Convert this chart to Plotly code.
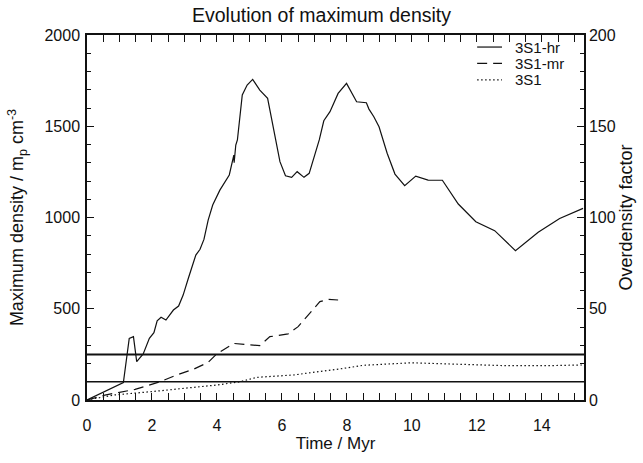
import plotly.graph_objects as go

# 3S1-hr (solid)
hr_time = [0, 1.12, 1.30, 1.43, 1.53, 1.73, 1.92, 2.06, 2.16, 2.28, 2.43, 2.66, 2.82, 2.96,
           3.12, 3.35, 3.48, 3.60, 3.73, 3.87, 4.09, 4.38, 4.52, 4.53, 4.58, 4.63, 4.78, 4.93,
           5.10, 5.32, 5.56, 5.71, 5.94, 6.11, 6.30, 6.47, 6.68, 6.84, 6.96, 7.09, 7.15, 7.29,
           7.48, 7.73, 7.99, 8.30, 8.60, 8.68, 8.83, 8.99, 9.24, 9.48, 9.78, 10.12, 10.50,
           10.94, 11.43, 11.97, 12.55, 13.19, 13.89, 14.55, 15.27]
hr_dens = [0, 95, 338, 347, 210, 252, 338, 369, 434, 453, 438, 493, 515, 575,
           667, 794, 826, 880, 986, 1068, 1150, 1233, 1342, 1300, 1397, 1425, 1671, 1726,
           1757, 1698, 1653, 1516, 1306, 1229, 1220, 1251, 1220, 1242, 1315, 1397, 1425, 1530,
           1580, 1680, 1735, 1634, 1629, 1594, 1552, 1497, 1352, 1238, 1174, 1227, 1205,
           1204, 1074, 977, 928, 818, 919, 995, 1050]

# 3S1-mr (dashed)
mr_time = [0, 0.55, 1.48, 2.25, 2.76, 3.27, 3.73, 3.99, 4.52, 4.88, 5.32, 5.63, 6.19, 6.50,
           6.86, 7.17, 7.43, 7.73]
mr_dens = [0, 27, 58, 100, 137, 168, 206, 252, 310, 305, 298, 347, 362, 402,
           475, 539, 552, 548]

# 3S1 (dotted)
lr_time = [0, 0.81, 1.99, 3.99, 4.71, 5.22, 6.35, 7.17, 7.89, 8.50, 9.22, 9.99, 10.86,
           11.89, 12.91, 14.14, 15.27]
lr_dens = [0, 27, 46, 82, 100, 124, 137, 155, 173, 190, 197, 204, 199,
           192, 188, 188, 192]

# horizontal reference levels (overdensity factor)
thresholds = [10, 25]
threshold_widths = [1.3, 2.0]

series_names = ["3S1-hr", "3S1-mr", "3S1"]
series_dash = ["solid", "10px,6px", "1.5px,2.5px"]

FONT = "Liberation Sans, Arial, Helvetica, sans-serif"
INK = "#111111"

fig = go.Figure()
for name, dash, xs, ys in zip(series_names, series_dash,
                              [hr_time, mr_time, lr_time], [hr_dens, mr_dens, lr_dens]):
    fig.add_scatter(x=xs, y=ys, mode="lines", name=name, showlegend=False,
                    line=dict(color=INK, width=1.2, dash=dash))

for lvl, w in zip(thresholds, threshold_widths):
    fig.add_shape(type="line", xref="x domain", x0=0, x1=1, yref="y2", y0=lvl, y1=lvl,
                  line=dict(color=INK, width=w))

# hand-made legend (tighter rows than plotly's own legend)
for i, (name, dash) in enumerate(zip(series_names, series_dash)):
    ly = 0.967 - i * 0.045
    fig.add_shape(type="line", xref="x domain", yref="y domain", x0=0.785, x1=0.835,
                  y0=ly, y1=ly, line=dict(color=INK, width=1.2, dash=dash))
    fig.add_annotation(xref="x domain", yref="y domain", x=0.857, y=ly, text=name,
                       showarrow=False, xanchor="left", yanchor="middle",
                       font=dict(size=15, color=INK))

axis_common = dict(showline=True, linecolor=INK, linewidth=1.5, ticks="inside",
                   tickcolor=INK, tickwidth=1.2, showgrid=False, zeroline=False,
                   automargin=False, tickfont=dict(size=16, color=INK))
minor_common = dict(ticks="inside", ticklen=4, tickcolor=INK, showgrid=False)

fig.update_layout(
    width=643, height=463,
    margin=dict(l=87, r=59, t=35, b=63),
    plot_bgcolor="white", paper_bgcolor="white",
    font=dict(family=FONT, color=INK),
    title=dict(text="Evolution of maximum density", x=0.5, xanchor="center",
               y=0.9676, yanchor="middle", font=dict(size=19.5, color=INK)),
    xaxis=dict(range=[0, 15.3], dtick=2, ticklen=7, mirror="allticks", ticklabelstandoff=10,
               minor=dict(dtick=0.5, **minor_common),
               title=dict(text="Time / Myr", font=dict(size=17, color=INK), standoff=4),
               **axis_common),
    yaxis=dict(range=[0, 2000], dtick=500, ticklen=7, ticklabelstandoff=2,
               minor=dict(dtick=100, **minor_common),
               title=dict(text="Maximum density / m<sub>p</sub> cm<sup>-3</sup>",
                          font=dict(size=18, color=INK), standoff=16),
               **axis_common),
    yaxis2=dict(range=[0, 200], dtick=50, ticklen=7, overlaying="y", side="right", anchor="x",
                minor=dict(dtick=10, **minor_common),
                title=dict(text="Overdensity factor", font=dict(size=18, color=INK), standoff=4),
                **axis_common),
    showlegend=False,
)

# the page's default 8px body margin would shift the figure
fig.write_html("out.html", config={"displayModeBar": False},
               post_script="document.body.style.margin='0';")
